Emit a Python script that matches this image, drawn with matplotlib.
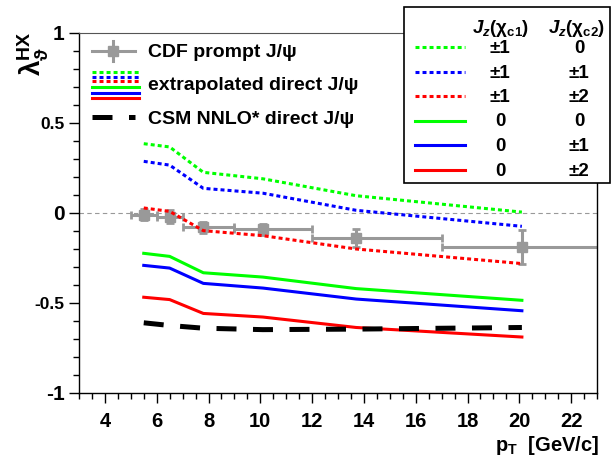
import matplotlib
matplotlib.use("Agg")
import matplotlib.pyplot as plt
from matplotlib.patches import Rectangle
from matplotlib.ticker import FixedLocator, FixedFormatter, MultipleLocator

plt.rcParams["font.family"] = ["Liberation Sans", "DejaVu Sans"]
plt.rcParams["font.weight"] = "bold"
plt.rcParams["mathtext.fontset"] = "custom"
plt.rcParams["mathtext.rm"] = "Liberation Sans:bold"
plt.rcParams["mathtext.it"] = "Liberation Sans:italic:bold"
plt.rcParams["mathtext.bf"] = "Liberation Sans:bold"
plt.rcParams["mathtext.fallback"] = "stixsans"

# %% data
pt = [5.5, 6.5, 7.8, 10.1, 13.7, 20.1]

cdf_lam = [-0.01, -0.02, -0.08, -0.09, -0.14, -0.19]
cdf_err = [0.03, 0.035, 0.03, 0.03, 0.05, 0.093]
bin_lo = [5, 6, 7, 9, 12, 17]
bin_hi = [6, 7, 9, 12, 17, 30]

# extrapolated direct J/psi, Jz(chi_c1) = +-1 (dotted) / 0 (solid)
dot_0 = [0.385, 0.367, 0.226, 0.19, 0.096, 0.005]
dot_1 = [0.287, 0.266, 0.137, 0.11, 0.015, -0.074]
dot_2 = [0.028, 0.009, -0.098, -0.126, -0.2, -0.281]
sol_0 = [-0.224, -0.241, -0.332, -0.356, -0.42, -0.485]
sol_1 = [-0.291, -0.306, -0.391, -0.417, -0.478, -0.543]
sol_2 = [-0.468, -0.481, -0.558, -0.578, -0.636, -0.689]

csm = [-0.61, -0.625, -0.64, -0.648, -0.645, -0.636]

jz_c1 = ["±1", "±1", "±1", "0", "0", "0"]
jz_c2 = ["0", "±1", "±2", "0", "±1", "±2"]

ytick_vals = [-1, -0.5, 0, 0.5, 1]
ytick_text = ["-1", "-0.5", "0", "0.5", "1"]

# %% styles
GREY = "#999999"
GREEN, BLUE, RED = "#00ff00", "#0000ff", "#ff0000"
DOT = (0, (1.3, 1.0))
CSM_DASH = (0, (4, 3.3))
LW = 2.2

W, H = 611, 462
fig = plt.figure(figsize=(W / 100, H / 100), dpi=100)
ax = fig.add_axes([79 / W, 1 - 393 / H, (597 - 79) / W, (393 - 33) / H])

ax.axhline(0, color=GREY, lw=0.8, ls=(0, (4, 3)), zorder=1)

xerr = [[p - lo for p, lo in zip(pt, bin_lo)], [hi - p for p, hi in zip(pt, bin_hi)]]
ax.errorbar(pt, cdf_lam, yerr=cdf_err, xerr=xerr, fmt="s", color=GREY,
            ms=6.5, elinewidth=LW, capsize=3, capthick=2, zorder=2)

series = [(dot_0, GREEN, DOT), (dot_1, BLUE, DOT), (dot_2, RED, DOT),
          (sol_0, GREEN, "-"), (sol_1, BLUE, "-"), (sol_2, RED, "-")]
for vals, col, ls in series:
    ax.plot(pt, vals, color=col, ls=ls, lw=LW, zorder=3)

ax.plot(pt, csm, color="black", ls=CSM_DASH, lw=3.6, zorder=4)

ax.set_xlim(3, 23)
ax.set_ylim(-1, 1)
ax.xaxis.set_major_locator(MultipleLocator(2))
ax.xaxis.set_minor_locator(MultipleLocator(0.5))
ax.yaxis.set_major_locator(FixedLocator(ytick_vals))
ax.yaxis.set_major_formatter(FixedFormatter(ytick_text))
ax.yaxis.set_minor_locator(MultipleLocator(0.1))
ax.set_xticks([4, 6, 8, 10, 12, 14, 16, 18, 20, 22])
ax.tick_params(which="both", direction="out", width=1, top=False, right=False)
ax.tick_params(which="major", length=7.5)
ax.tick_params(which="minor", length=4.5)
ax.tick_params(axis="x", labelsize=14.5, pad=6)
ax.tick_params(axis="y", pad=3)
for lab in ax.get_yticklabels():
    lab.set_fontsize(15 if "." not in lab.get_text() else 12.5)
    lab.set_fontweight("bold")
for lab in ax.get_xticklabels():
    lab.set_fontweight("bold")

ax.spines["top"].set_linestyle((0, (2, 1)))
ax.spines["top"].set_color("#555555")
for s in ["left", "bottom", "right"]:
    ax.spines[s].set_linewidth(1)

fig.text(33 / W, 1 - 31 / H, r"λ$_{\mathrm{ϑ}}^{\mathrm{HX}}$", rotation=90,
         ha="center", va="top", fontsize=20, fontweight="bold")
fig.text(599 / W, 1 - 451 / H, r"p$_{\mathrm{T}}$  [GeV/c]", ha="right",
         va="baseline", fontsize=14.5, fontweight="bold")

# %% legends drawn in pixel coordinates on an overlay
ov = fig.add_axes([0, 0, 1, 1], zorder=10)
ov.set_xlim(0, W)
ov.set_ylim(H, 0)
ov.axis("off")

ov.plot([92, 135], [51, 51], color=GREY, lw=LW)
ov.plot([113, 113], [41, 61], color=GREY, lw=LW)
ov.plot([113], [51], "s", color=GREY, ms=6.5)
for yy, (vals, col, ls) in zip([72, 76.5, 81, 87, 92.5, 97.5], series):
    ov.plot([92, 139], [yy, yy], color=col, ls=ls, lw=LW)
ov.plot([92, 135], [117, 117], color="black", ls=CSM_DASH, lw=3.6)
ov.text(148, 57, "CDF prompt J/ψ", fontsize=14, fontweight="bold", va="baseline")
ov.text(148, 90, "extrapolated direct J/ψ", fontsize=14, fontweight="bold", va="baseline")
ov.text(148, 124, "CSM NNLO* direct J/ψ", fontsize=14, fontweight="bold", va="baseline")

ov.add_patch(Rectangle((404, 7), 206, 176, facecolor="white", edgecolor="black", lw=1.2))
ov.text(501, 33, r"$\mathit{J}_{\mathit{z}}$(χ$_{\mathrm{c1}}$)", ha="center",
        va="baseline", fontsize=13.5, fontweight="bold")
ov.text(577, 33, r"$\mathit{J}_{\mathit{z}}$(χ$_{\mathrm{c2}}$)", ha="center",
        va="baseline", fontsize=13.5, fontweight="bold")
for i, ((vals, col, ls), a, b) in enumerate(zip(series, jz_c1, jz_c2)):
    base = 53 + i * 24.5
    ov.plot([415, 465], [base - 6, base - 6], color=col, ls=ls, lw=LW)
    ov.text(500, base, a, ha="center", va="baseline", fontsize=13.5, fontweight="bold")
    ov.text(579, base, b, ha="center", va="baseline", fontsize=13.5, fontweight="bold")

fig.savefig("out.png", dpi=100)
